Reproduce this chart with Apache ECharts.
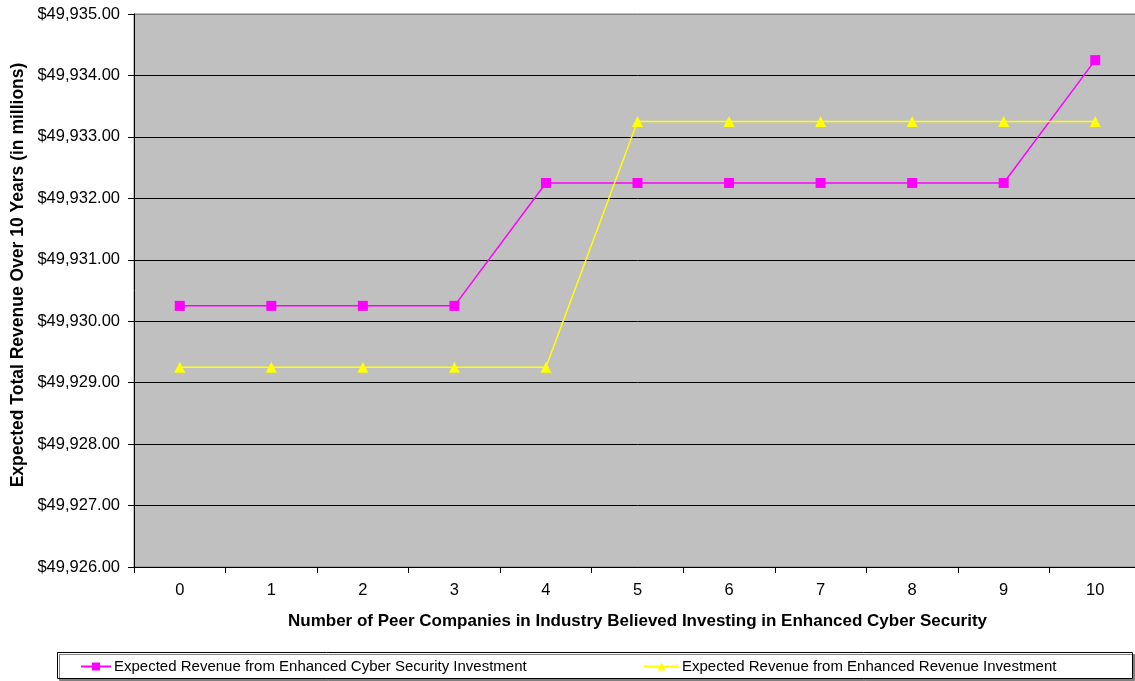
<!DOCTYPE html>
<html>
<head>
<meta charset="utf-8">
<script src="https://cdn.jsdelivr.net/npm/echarts@6/dist/echarts.min.js"></script>
<style>html,body{margin:0;padding:0;background:#fff;overflow:hidden}#c{width:1141px;height:681px}</style>
</head>
<body>
<div id="c"></div>
<script>
const categories = ['0','1','2','3','4','5','6','7','8','9','10'];
const cyberSecurity = [49930.25,49930.25,49930.25,49930.25,49932.25,49932.25,49932.25,49932.25,49932.25,49932.25,49934.25];
const revenueInvest = [49929.25,49929.25,49929.25,49929.25,49929.25,49933.25,49933.25,49933.25,49933.25,49933.25,49933.25];
const seriesNames = ['Expected Revenue from Enhanced Cyber Security Investment','Expected Revenue from Enhanced Revenue Investment'];
const yTitle = 'Expected Total Revenue Over 10 Years (in millions)';
const xTitle = 'Number of Peer Companies in Industry Believed Investing in Enhanced Cyber Security';
const yMin = 49926, yMax = 49935, yStep = 1;

const font = 'Liberation Sans, Arial, sans-serif';
const chart = echarts.init(document.getElementById('c'));
chart.setOption({
  animation: false,
  textStyle: {fontFamily: font},
  grid: {left: 134, right: 0, top: 14, bottom: 114, show: true, backgroundColor: '#C0C0C0', borderColor: '#808080', borderWidth: 1},
  xAxis: {
    type: 'category', data: categories, boundaryGap: true,
    name: xTitle,
    nameLocation: 'middle', nameGap: 46,
    nameTextStyle: {fontWeight: 'bold', fontSize: 17, color: '#000', fontFamily: font},
    axisLine: {lineStyle: {color: '#000', width: 1}},
    axisTick: {show: true, alignWithLabel: false, length: 6, lineStyle: {color: '#000'}},
    axisLabel: {fontSize: 16.5, color: '#000', margin: 15, fontFamily: font},
    splitLine: {show: false}
  },
  yAxis: {
    type: 'value', min: yMin, max: yMax, interval: yStep,
    axisLine: {show: true, lineStyle: {color: '#000', width: 1}},
    axisTick: {show: true, length: 6, lineStyle: {color: '#000'}},
    axisLabel: {fontSize: 16.5, color: '#000', margin: 14, fontFamily: font,
      formatter: v => '$' + v.toLocaleString('en-US', {minimumFractionDigits: 2, maximumFractionDigits: 2})},
    splitLine: {show: true, lineStyle: {color: ['#000','#000','#000','#000','#000','#000','#000','#000','#000','#808080'], width: 1}}
  },
  graphic: [{
    type: 'rect', left: 57, top: 652, z: -1,
    shape: {width: 1075, height: 26},
    style: {fill: '#fff', stroke: '#000', lineWidth: 1, shadowColor: '#808080', shadowOffsetX: 2, shadowOffsetY: 2, shadowBlur: 0}
  }, {
    type: 'text', x: 18, y: 275, rotation: Math.PI / 2,
    style: {text: yTitle, fontFamily: font, fontWeight: 'bold', fontSize: 17.5, fill: '#000', align: 'center', verticalAlign: 'middle'}
  }],
  legend: [
    {data: [seriesNames[0]], left: 80, top: 659, itemWidth: 30, itemHeight: 10, itemGap: 0, padding: 0,
     textStyle: {fontSize: 15, color: '#000', fontFamily: font, padding: [0,0,0,-2]}},
    {data: [seriesNames[1]], left: 643, top: 659, itemWidth: 35, itemHeight: 10, itemGap: 0, padding: 0,
     textStyle: {fontSize: 15, color: '#000', fontFamily: font, padding: [0,0,0,-2]}}
  ],
  series: [
    {name: seriesNames[0], type: 'line', data: cyberSecurity, symbol: 'rect', symbolSize: 10,
     lineStyle: {color: '#FF00FF', width: 1.5}, itemStyle: {color: '#FF00FF'}},
    {name: seriesNames[1], type: 'line', data: revenueInvest, symbol: 'triangle', symbolSize: 11,
     lineStyle: {color: '#FFFF00', width: 1.5}, itemStyle: {color: '#FFFF00'}}
  ]
});
</script>
</body>
</html>
